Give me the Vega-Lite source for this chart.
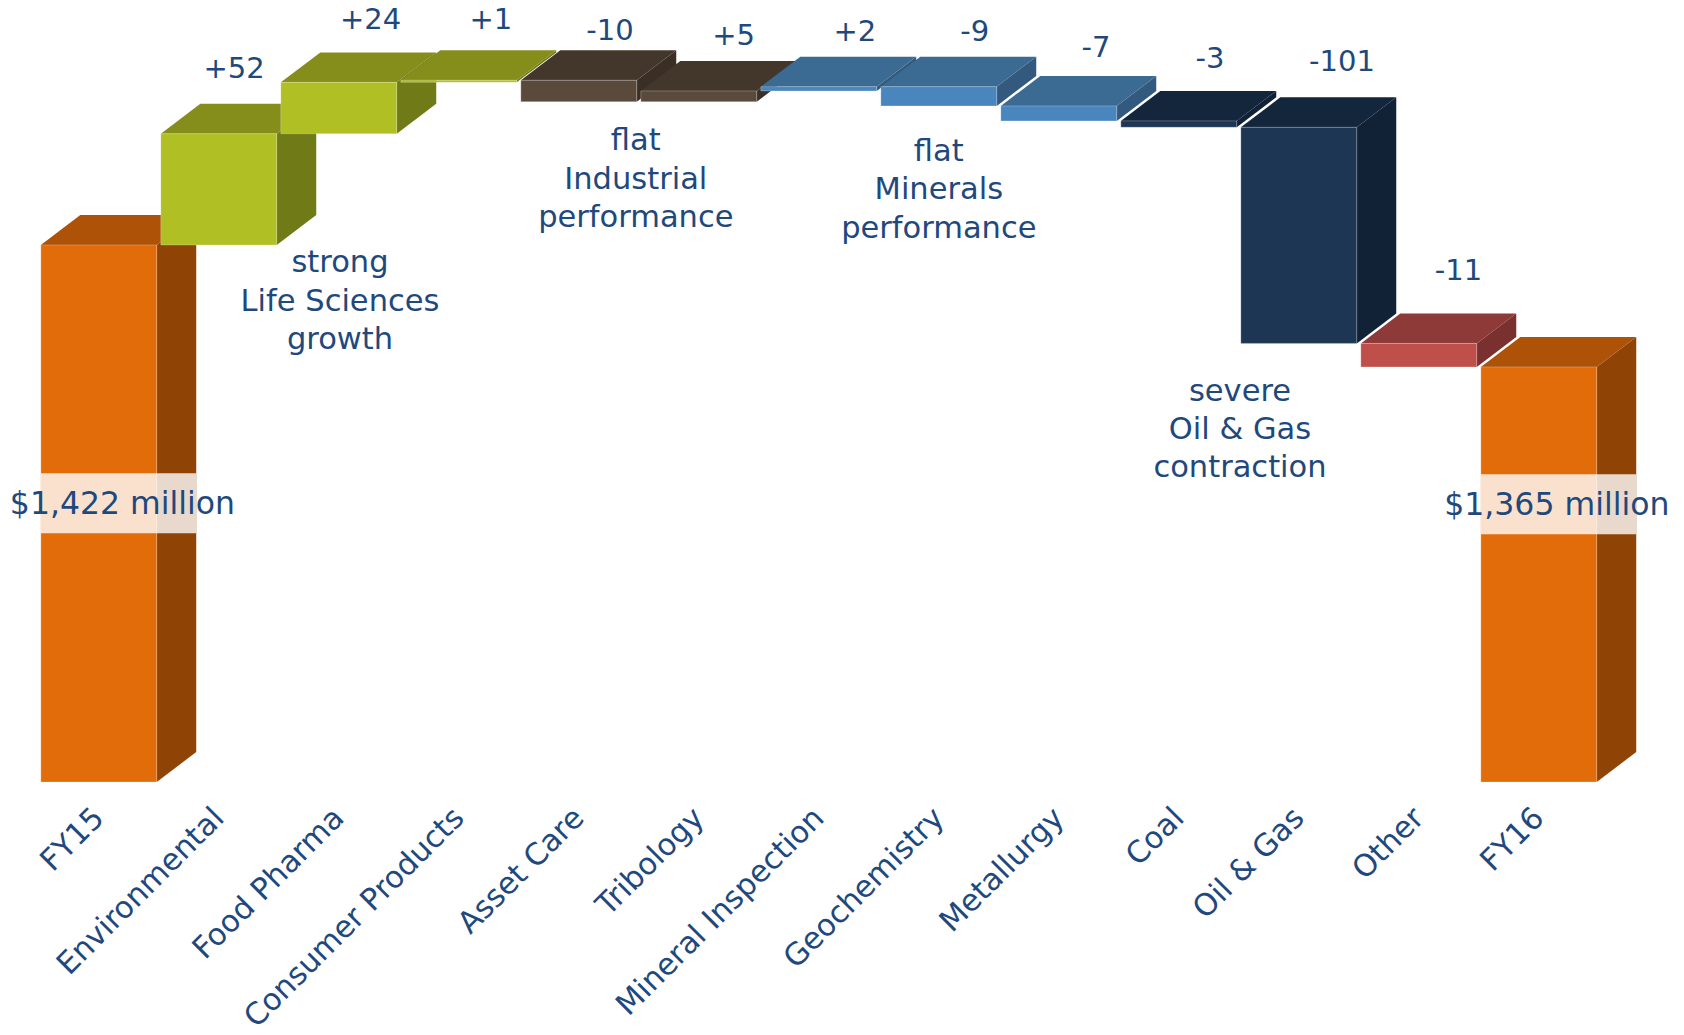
{
  "$schema": "https://vega.github.io/schema/vega-lite/v6.json",
  "description": "FY15 to FY16 revenue bridge by business line, in $ million, drawn as extruded waterfall blocks.",
  "width": 1684,
  "height": 782,
  "autosize": {"type": "none"},
  "padding": {"left": 0, "top": 0, "right": 0, "bottom": 253},
  "background": "white",
  "config": {"view": {"stroke": null}},
  "datasets": {
    "bridge": [
      {"label": "FY15", "order": 0, "start": 1171, "end": 1422, "group": "Total"},
      {"label": "Environmental", "order": 1, "start": 1422, "end": 1474, "group": "Life Sciences"},
      {"label": "Food Pharma", "order": 2, "start": 1474, "end": 1498, "group": "Life Sciences"},
      {"label": "Consumer Products", "order": 3, "start": 1498, "end": 1499, "group": "Life Sciences"},
      {"label": "Asset Care", "order": 4, "start": 1499, "end": 1489, "group": "Industrial"},
      {"label": "Tribology", "order": 5, "start": 1489, "end": 1494, "group": "Industrial"},
      {"label": "Mineral Inspection", "order": 6, "start": 1494, "end": 1496, "group": "Minerals"},
      {"label": "Geochemistry", "order": 7, "start": 1496, "end": 1487, "group": "Minerals"},
      {"label": "Metallurgy", "order": 8, "start": 1487, "end": 1480, "group": "Minerals"},
      {"label": "Coal", "order": 9, "start": 1480, "end": 1477, "group": "Energy"},
      {"label": "Oil & Gas", "order": 10, "start": 1477, "end": 1376, "group": "Energy"},
      {"label": "Other", "order": 11, "start": 1376, "end": 1365, "group": "Other"},
      {"label": "FY16", "order": 12, "start": 1171, "end": 1365, "group": "Total"}
    ],
    "changes": [
      {"text": "+52", "at": 1.127, "level": 1504.3},
      {"text": "+24", "at": 2.264, "level": 1527},
      {"text": "+1", "at": 3.267, "level": 1527},
      {"text": "-10", "at": 4.26, "level": 1522},
      {"text": "+5", "at": 5.29, "level": 1519.9},
      {"text": "+2", "at": 6.3, "level": 1521.4},
      {"text": "-9", "at": 7.3, "level": 1521.4},
      {"text": "-7", "at": 8.31, "level": 1513.9},
      {"text": "-3", "at": 9.26, "level": 1508.8},
      {"text": "-101", "at": 10.36, "level": 1507.7},
      {"text": "-11", "at": 11.33, "level": 1410}
    ],
    "notes": [
      {"text": ["strong", "Life Sciences", "growth"], "at": 2.01, "level": 1413.5},
      {"text": ["flat", "Industrial", "performance"], "at": 4.475, "level": 1470.5},
      {"text": ["flat", "Minerals", "performance"], "at": 7.0, "level": 1465.5},
      {"text": ["severe", "Oil & Gas", "contraction"], "at": 9.51, "level": 1353.5}
    ],
    "totals": [
      {"text": "$1,422 million", "order": 0, "at": 0.197, "level": 1300.5, "strip": 1301.3},
      {"text": "$1,365 million", "order": 12, "at": 12.15, "level": 1300.2, "strip": 1300.8}
    ]
  },
  "layer": [
    {
      "description": "Right-hand side of each block",
      "data": {"name": "bridge"},
      "transform": [
        {"calculate": "[0, 1]", "as": "corner"},
        {"flatten": ["corner"]},
        {"calculate": "datum.order + 0.483 + datum.corner * 0.329", "as": "px"},
        {"calculate": "min(datum.start, datum.end) + datum.corner * 14.02", "as": "low"},
        {"calculate": "max(datum.start, datum.end) + datum.corner * 14.02", "as": "high"}
      ],
      "mark": {"type": "area", "clip": true},
      "encoding": {
        "x": {
          "field": "px",
          "type": "quantitative",
          "scale": {"domain": [-0.8233, 13.21], "nice": false, "zero": false},
          "axis": {
            "title": null,
            "grid": false,
            "domain": false,
            "ticks": false,
            "values": [0, 1, 2, 3, 4, 5, 6, 7, 8, 9, 10, 11, 12],
            "labelExpr": "['FY15','Environmental','Food Pharma','Consumer Products','Asset Care','Tribology','Mineral Inspection','Geochemistry','Metallurgy','Coal','Oil & Gas','Other','FY16'][datum.value]",
            "labelAngle": -45,
            "labelAlign": "right",
            "labelBaseline": "middle",
            "labelPadding": 31,
            "labelFont": "DejaVu Sans",
            "labelFontSize": 30.4,
            "labelColor": "#1F497D",
            "labelLimit": 600,
            "labelOverlap": false,
            "labelFlush": false,
            "labelBound": false
          }
        },
        "y": {
          "field": "low",
          "type": "quantitative",
          "scale": {"domain": [1171, 1536.5], "nice": false, "zero": false},
          "axis": null
        },
        "y2": {"field": "high"},
        "detail": {"field": "label"},
        "color": {
          "field": "group",
          "type": "nominal",
          "legend": null,
          "scale": {
            "domain": ["Total", "Life Sciences", "Industrial", "Minerals", "Energy", "Other"],
            "range": ["#8F4304", "#707A17", "#3A2F25", "#33597E", "#112236", "#7A302E"]
          }
        }
      }
    },
    {
      "description": "Top face of each block",
      "data": {"name": "bridge"},
      "transform": [
        {"calculate": "[0, 1, 2, 3]", "as": "corner"},
        {"flatten": ["corner"]},
        {"calculate": "datum.order + [-0.483, -0.154, 0.483, 0.812][datum.corner]", "as": "px"},
        {"calculate": "max(datum.start, datum.end) + [0, 0, 0, 14.02][datum.corner]", "as": "low"},
        {"calculate": "max(datum.start, datum.end) + [0, 14.02, 14.02, 14.02][datum.corner]", "as": "high"}
      ],
      "mark": {"type": "area", "clip": true},
      "encoding": {
        "x": {"field": "px", "type": "quantitative"},
        "y": {"field": "low", "type": "quantitative"},
        "y2": {"field": "high"},
        "detail": {"field": "label"},
        "color": {
          "field": "group",
          "type": "nominal",
          "legend": null,
          "scale": {
            "domain": ["Total", "Life Sciences", "Industrial", "Minerals", "Energy", "Other"],
            "range": ["#AD5207", "#868E1B", "#43372C", "#3B6A92", "#13263C", "#8E3A38"]
          }
        }
      }
    },
    {
      "description": "Front face of each block",
      "data": {"name": "bridge"},
      "transform": [
        {"calculate": "datum.order - 0.483", "as": "left"},
        {"calculate": "datum.order + 0.483", "as": "right"}
      ],
      "mark": {"type": "rect", "stroke": "#ffffff", "strokeWidth": 1, "strokeOpacity": 0.25},
      "encoding": {
        "x": {"field": "left", "type": "quantitative"},
        "x2": {"field": "right"},
        "y": {"field": "start", "type": "quantitative"},
        "y2": {"field": "end"},
        "color": {
          "field": "group",
          "type": "nominal",
          "legend": null,
          "scale": {
            "domain": ["Total", "Life Sciences", "Industrial", "Minerals", "Energy", "Other"],
            "range": ["#E36C0A", "#AFBF24", "#5A4A3C", "#4A86BE", "#1C3653", "#BE4F4B"]
          }
        }
      }
    },
    {
      "description": "Pale strip behind each total",
      "data": {"name": "totals"},
      "transform": [
        {"calculate": "datum.order - 0.483", "as": "left"},
        {"calculate": "datum.order + 0.812", "as": "right"},
        {"calculate": "datum.strip - 14", "as": "low"},
        {"calculate": "datum.strip + 14", "as": "high"}
      ],
      "mark": {"type": "rect", "color": "#ffffff", "opacity": 0.8},
      "encoding": {
        "x": {"field": "left", "type": "quantitative"},
        "x2": {"field": "right"},
        "y": {"field": "low", "type": "quantitative"},
        "y2": {"field": "high"}
      }
    },
    {
      "data": {"name": "totals"},
      "mark": {"type": "text", "font": "DejaVu Sans", "fontSize": 31.5, "color": "#1F497D", "align": "center", "baseline": "middle"},
      "encoding": {
        "x": {"field": "at", "type": "quantitative"},
        "y": {"field": "level", "type": "quantitative"},
        "text": {"field": "text"}
      }
    },
    {
      "data": {"name": "changes"},
      "mark": {"type": "text", "font": "DejaVu Sans", "fontSize": 29, "color": "#1F497D", "align": "center", "baseline": "middle"},
      "encoding": {
        "x": {"field": "at", "type": "quantitative"},
        "y": {"field": "level", "type": "quantitative"},
        "text": {"field": "text"}
      }
    },
    {
      "data": {"name": "notes"},
      "mark": {"type": "text", "font": "DejaVu Sans", "fontSize": 30.5, "lineHeight": 38.4, "color": "#1F497D", "align": "center", "baseline": "middle"},
      "encoding": {
        "x": {"field": "at", "type": "quantitative"},
        "y": {"field": "level", "type": "quantitative"},
        "text": {"field": "text"}
      }
    }
  ],
  "resolve": {"scale": {"color": "independent"}}
}
